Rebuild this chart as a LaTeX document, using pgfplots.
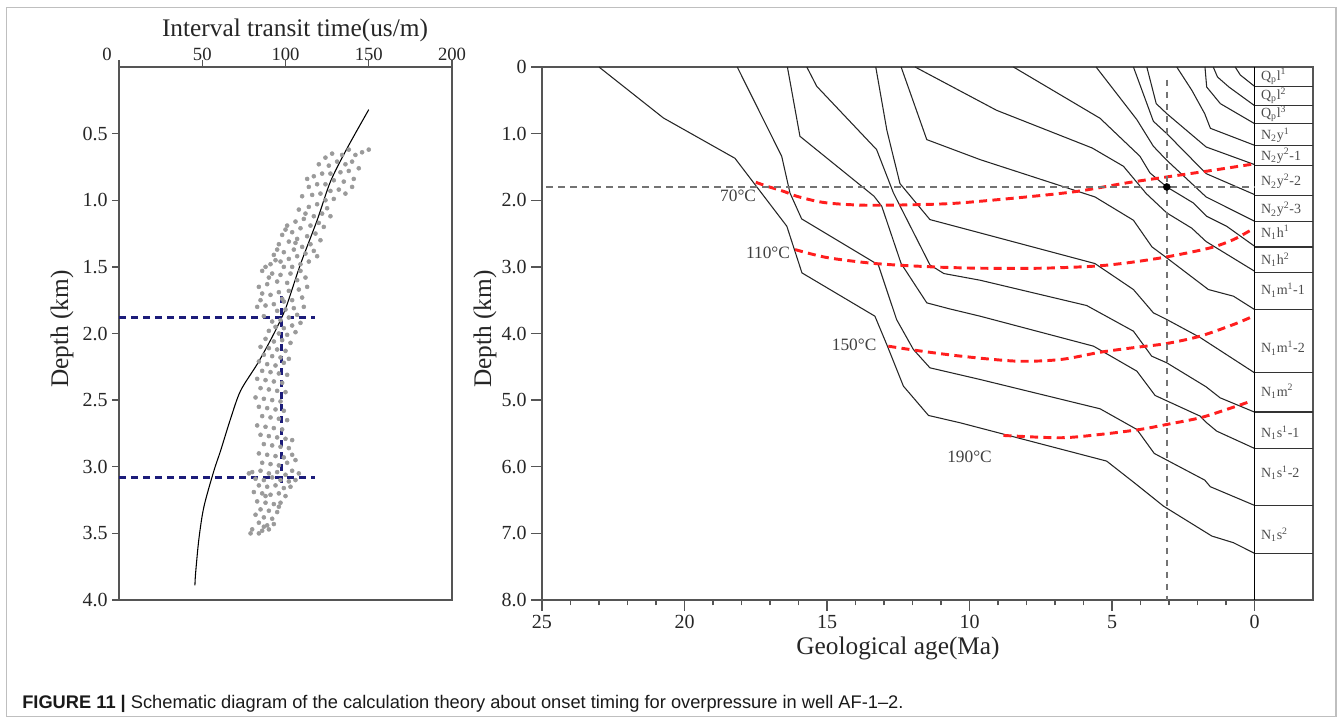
\documentclass[border=0pt]{standalone}
\usepackage{pgfplots}
\pgfplotsset{compat=1.18}
\usepackage{fontspec}
\setmainfont{Liberation Serif}
\newfontfamily\capfont{Liberation Sans}
\definecolor{axgray}{HTML}{555555}
\definecolor{dotgray}{HTML}{9A9A9A}
\definecolor{bluedash}{HTML}{1C1C7A}
\definecolor{isored}{HTML}{FF1E1E}
\pgfplotsset{burial/.style={black!85, line width=0.8pt, mark=none},
 iso/.style={isored, line width=2.2pt, dash pattern=on 6pt off 4pt, smooth, mark=none}}
\begin{document}
\begin{tikzpicture}
\useasboundingbox (0,0) rectangle (1006.5pt,541.5pt);
\draw[black!25, line width=0.8pt] (5pt,4pt) rectangle (1002pt,536pt);

% ---------------- left panel ----------------
\begin{axis}[
 at={(89.25pt,91.5pt)}, anchor=south west, scale only axis,
 width=249.75pt, height=399.75pt,
 xmin=0, xmax=200, ymin=0, ymax=4, y dir=reverse,
 xtick={50,100,150,200}, xticklabels={50,100,150,200},
 extra x ticks={0}, extra x tick labels={0},
 extra x tick style={xticklabel style={xshift=-9pt}},
 xtick pos=right, xticklabel pos=right,
 ytick={0.5,1.0,1.5,2.0,2.5,3.0,3.5,4.0},
 yticklabels={0.5,1.0,1.5,2.0,2.5,3.0,3.5,4.0},
 ytick pos=left,
 tick align=outside, major tick length=5pt,
 axis line style={axgray, line width=1.2pt},
 tick style={axgray, line width=1pt},
 ticklabel style={font=\fontsize{15}{17}\selectfont, text=black!85},
 xticklabel style={font=\fontsize{14}{16}\selectfont, yshift=-4pt},
 /pgf/number format/assume math mode=true,
 clip=false,
]
\addplot[only marks, mark=*, mark size=1.5pt, color=dotgray, mark options={draw=none, fill=dotgray}] table {
150 0.62
146 0.64
142 0.66
138 0.62
134 0.66
128 0.65
124 0.68
140 0.71
136 0.73
131 0.71
126 0.74
120 0.73
144 0.76
138 0.78
133 0.79
127 0.80
122 0.80
117 0.82
141 0.84
135 0.86
129 0.85
124 0.88
119 0.88
114 0.90
132 0.92
127 0.93
121 0.95
116 0.96
110 0.97
129 0.99
124 1.00
136 0.95
140 0.90
113 0.84
119 1.03
114 1.05
108 1.07
125 1.06
122 1.10
117 1.12
111 1.14
106 1.16
101 1.19
127 1.12
120 1.17
115 1.19
109 1.21
104 1.24
98 1.26
118 1.25
113 1.27
107 1.29
102 1.31
96 1.33
121 1.30
115 1.33
110 1.35
105 1.37
99 1.39
93 1.41
117 1.38
112 1.40
107 1.42
102 1.44
97 1.46
91 1.48
114 1.46
109 1.48
104 1.50
99 1.50
94 1.45
88 1.50
106 1.32
100 1.22
112 1.10
123 1.20
95 1.37
119 1.42
86 1.53
92 1.55
97 1.56
103 1.55
109 1.53
112 1.58
107 1.60
101 1.62
95 1.61
89 1.63
84 1.65
86 1.70
91 1.71
96 1.69
102 1.68
108 1.67
110 1.73
104 1.75
99 1.76
93 1.78
88 1.79
83 1.80
95 1.83
100 1.82
105 1.81
111 1.80
107 1.86
102 1.88
97 1.90
92 1.91
87 1.87
94 1.95
99 1.96
104 1.94
109 1.92
90 1.98
96 2.00
101 2.01
106 1.99
98 1.74
113 1.65
90 1.58
85 1.75
88 2.04
93 2.06
98 2.05
103 2.07
85 2.10
90 2.11
95 2.12
100 2.13
87 2.16
92 2.17
97 2.18
102 2.19
84 2.21
89 2.23
94 2.24
99 2.22
86 2.28
91 2.29
96 2.30
101 2.31
83 2.34
88 2.35
93 2.36
98 2.37
85 2.41
90 2.42
95 2.43
100 2.44
82 2.48
87 2.49
92 2.50
97 2.51
84 2.55
89 2.56
94 2.57
99 2.58
86 2.62
91 2.63
96 2.64
101 2.65
83 2.69
88 2.70
93 2.71
98 2.72
85 2.76
90 2.77
95 2.78
100 2.79
104 2.80
87 2.83
92 2.84
97 2.85
102 2.86
84 2.90
89 2.91
94 2.92
99 2.93
104 2.91
86 2.97
91 2.98
96 2.99
101 2.97
106 2.95
80 3.04
85 3.03
90 3.05
95 3.04
100 3.06
104 3.03
108 3.05
82 3.09
87 3.10
92 3.08
97 3.10
102 3.11
106 3.10
84 3.14
89 3.15
94 3.14
99 3.16
103 3.15
81 3.19
86 3.20
91 3.21
96 3.20
100 3.22
83 3.26
88 3.27
93 3.28
97 3.27
85 3.32
90 3.33
95 3.34
82 3.36
87 3.38
92 3.39
84 3.42
89 3.44
93 3.43
80 3.47
86 3.48
90 3.47
79 3.50
84 3.50
87 3.45
96 3.30
88 3.22
78 3.05
};
\addplot[black, line width=0.8pt, smooth, mark=none] coordinates {
(150,0.32) (137,0.61) (127,0.86) (119,1.15) (109,1.48) (101,1.78) (97,1.90)
(91,2.05) (83,2.23) (73,2.43) (67,2.64) (61,2.88) (57,3.03) (51,3.30)
(48,3.54) (46,3.80) (45.6,3.89)};
\addplot[bluedash, line width=1.8pt, dash pattern=on 5pt off 4pt, mark=none] coordinates {(0,1.88) (118,1.88)};
\addplot[bluedash, line width=1.8pt, dash pattern=on 5pt off 4pt, mark=none] coordinates {(0,3.08) (118,3.08)};
\addplot[bluedash, line width=1.8pt, dash pattern=on 5pt off 4pt, mark=none] coordinates {(97.5,1.72) (97.5,3.12)};
\end{axis}

% ---------------- right panel ----------------
\begin{axis}[
 at={(406.5pt,91.5pt)}, anchor=south west, scale only axis,
 width=578.25pt, height=399.75pt,
 xmin=-2.05, xmax=25, x dir=reverse,
 ymin=0, ymax=8, y dir=reverse,
 xtick={0,5,10,15,20,25}, xticklabels={0,5,10,15,20,25},
 minor xtick={1,2,3,4,6,7,8,9,11,12,13,14,16,17,18,19,21,22,23,24},
 xtick pos=left, ytick pos=left,
 ytick={0,1,2,3,4,5,6,7,8},
 yticklabels={0,1.0,2.0,3.0,4.0,5.0,6.0,7.0,8.0},
 tick align=outside, major tick length=8pt, minor tick length=4pt,
 axis line style={axgray, line width=1.2pt},
 tick style={axgray, line width=1pt},
 ticklabel style={font=\fontsize{15}{17}\selectfont, text=black!85},
 /pgf/number format/assume math mode=true,
 clip=false,
]
% burial curves
\addplot[burial] coordinates {(23,0) (20.74,0.765) (18.23,1.37) (16.41,2.39) (15.88,3.09) (13.32,3.74) (12.9,4.17) (12.32,4.79) (11.44,5.23) (10.33,5.34) (5.19,5.915) (4.25,6.23) (3.49,6.49) (3.2,6.59) (1.5,7.04) (0.74,7.14) (0,7.30)};
\addplot[burial] coordinates {(18.15,0) (16.59,1.34) (16.3,1.89) (15.89,2.28) (13.2,2.97) (12.56,3.79) (11.97,4.24) (11.39,4.515) (9.63,4.69) (5.42,5.13) (4.13,5.44) (3.96,5.54) (3.52,5.80) (1.75,6.20) (1.55,6.30) (0,6.58)};
\addplot[burial] coordinates {(16.39,0) (15.95,1.04) (13.35,1.94) (13.08,2.09) (12.4,2.95) (11.5,3.54) (10.7,3.63) (9.63,3.74) (5.65,4.19) (4.13,4.565) (3.49,4.93) (1.91,5.24) (1.68,5.34) (1.33,5.465) (0,5.725)};
\addplot[burial] coordinates {(15.71,0) (15.36,0.29) (13.26,1.24) (12.67,1.89) (11.39,2.97) (10.9,3.1) (9.63,3.2) (5.89,3.58) (4.25,3.965) (3.61,4.34) (3.08,4.44) (1.7,4.8) (1.21,4.965) (0,5.18)};
\addplot[burial] coordinates {(13.29,0) (12.9,0.95) (12.7,1.3) (12.44,1.75) (11.39,2.29) (9.63,2.49) (5.6,2.95) (4.25,3.34) (3.55,3.69) (3.08,3.79) (1.91,4.06) (0,4.59)};
\addplot[burial] coordinates {(12.4,0) (11.5,1.09) (9.63,1.39) (5.6,1.95) (4.25,2.3) (3.6,2.7) (3.08,2.865) (1.62,3.34) (0.74,3.44) (0,3.64)};
\addplot[burial] coordinates {(11.91,0) (9.05,0.65) (5.7,1.215) (4.6,1.49) (3.8,1.9) (3.08,2.19) (2.2,2.42) (1.7,2.62) (0,3.065)};
\addplot[burial] coordinates {(8.46,0) (5.42,0.77) (4.02,1.34) (3.67,1.59) (3.08,1.8) (2.15,2.04) (1.68,2.24) (0.98,2.39) (0,2.69)};
\addplot[burial] coordinates {(5.56,0) (4.13,0.79) (3.55,1.19) (3.08,1.4) (1.7,1.95) (0,2.315)};
\addplot[burial] coordinates {(4.25,0) (3.55,0.815) (3.08,1.0) (1.7,1.6) (0,1.915)};
\addplot[burial] coordinates {(3.78,0) (3.45,0.55) (3.08,0.7) (1.7,1.2) (0,1.465)};
\addplot[burial] coordinates {(2.73,0) (2.2,0.35) (1.75,0.7) (1.55,0.92) (0,1.175)};
\addplot[burial] coordinates {(1.74,0) (1.68,0.3) (1.2,0.55) (0,0.85)};
\addplot[burial] coordinates {(1.45,0) (1.3,0.15) (0.9,0.3) (0,0.58)};
\addplot[burial] coordinates {(0.68,0) (0.5,0.12) (0,0.29)};
% column
\addplot[black, line width=1.2pt, mark=none] coordinates {(0,0) (0,8)};
\pgfplotsinvokeforeach{0.29,0.58,0.85,1.175,1.475,1.925,2.315,2.70,3.08,3.64,4.59,5.18,5.73,6.58,7.30}{
 \addplot[black!80, line width=1pt, mark=none] coordinates {(0,#1) (-2.05,#1)};}
% isotherms
\addplot[iso] coordinates {(17.5,1.73) (17.1,1.79) (16.53,1.865) (16.06,1.94) (15.36,2.015) (14.77,2.05) (13.6,2.075) (11.7,2.065) (10.33,2.04) (8.0,1.95) (6.2,1.865) (4.5,1.74) (3.08,1.65) (1.7,1.565) (0.1,1.46)};
\addplot[iso] coordinates {(16.12,2.74) (15.0,2.86) (13.3,2.95) (11.3,3.0) (9.6,3.02) (7.5,3.02) (5.65,2.99) (4.48,2.94) (3.08,2.85) (1.56,2.715) (0.74,2.59) (0.1,2.44)};
\addplot[iso] coordinates {(12.85,4.19) (11.85,4.255) (10.3,4.34) (8.34,4.415) (6.8,4.39) (5.4,4.28) (4.2,4.21) (3.08,4.15) (1.91,4.04) (0.74,3.865) (0.15,3.76)};
\addplot[iso] coordinates {(8.81,5.53) (6.82,5.565) (5.42,5.515) (4.02,5.44) (3.08,5.365) (1.91,5.265) (0.98,5.14) (0.15,5.02)};
% reference lines and point
\addplot[black!55, line width=1.1pt, dash pattern=on 5pt off 4pt, mark=none] coordinates {(24.85,1.8) (0,1.8)};
\addplot[black!55, line width=1.1pt, dash pattern=on 5pt off 4pt, mark=none] coordinates {(3.08,0.19) (3.08,8)};
\addplot[only marks, mark=*, mark size=2.6pt, black] coordinates {(3.08,1.8)};
% temperature labels
\begin{scope}[every node/.style={font=\fontsize{13}{15}\selectfont, text=black!75}]
\node at (axis cs:18.12,1.94) {70°C};
\node at (axis cs:17.07,2.79) {110°C};
\node at (axis cs:14.05,4.17) {150°C};
\node at (axis cs:10.0,5.85) {190°C};
\end{scope}
% column labels
\begin{scope}[every node/.style={font=\fontsize{10.5}{12}\selectfont, text=black!70, anchor=west, inner sep=0pt}]
\node at (axis cs:-0.22,0.14) {Q\textsubscript{p}l\textsuperscript{1}};
\node at (axis cs:-0.22,0.43) {Q\textsubscript{p}l\textsuperscript{2}};
\node at (axis cs:-0.22,0.70) {Q\textsubscript{p}l\textsuperscript{3}};
\node at (axis cs:-0.22,1.02) {N\textsubscript{2}y\textsuperscript{1}};
\node at (axis cs:-0.22,1.33) {N\textsubscript{2}y\textsuperscript{2}-1};
\node at (axis cs:-0.22,1.72) {N\textsubscript{2}y\textsuperscript{2}-2};
\node at (axis cs:-0.22,2.14) {N\textsubscript{2}y\textsuperscript{2}-3};
\node at (axis cs:-0.22,2.48) {N\textsubscript{1}h\textsuperscript{1}};
\node at (axis cs:-0.22,2.89) {N\textsubscript{1}h\textsuperscript{2}};
\node at (axis cs:-0.22,3.35) {N\textsubscript{1}m\textsuperscript{1}-1};
\node at (axis cs:-0.22,4.22) {N\textsubscript{1}m\textsuperscript{1}-2};
\node at (axis cs:-0.22,4.87) {N\textsubscript{1}m\textsuperscript{2}};
\node at (axis cs:-0.22,5.49) {N\textsubscript{1}s\textsuperscript{1}-1};
\node at (axis cs:-0.22,6.09) {N\textsubscript{1}s\textsuperscript{1}-2};
\node at (axis cs:-0.22,7.02) {N\textsubscript{1}s\textsuperscript{2}};
\end{scope}
\end{axis}

% titles and labels
\node[font=\fontsize{19}{22}\selectfont, text=black!85] at (221.25pt,519pt) {Interval transit time(us/m)};
\node[font=\fontsize{19}{22}\selectfont, text=black!85, rotate=90] at (46.5pt,294.75pt) {Depth (km)};
\node[font=\fontsize{19}{22}\selectfont, text=black!85, rotate=90] at (363.75pt,294.75pt) {Depth (km)};
\node[font=\fontsize{19}{22}\selectfont, text=black!85] at (673.5pt,55.5pt) {Geological age(Ma)};
\node[anchor=base west, inner sep=0pt, font=\capfont\fontsize{13.7}{15}\selectfont, text=black!90] at (16.5pt,10.5pt) {\textbf{FIGURE 11 |} Schematic diagram of the calculation theory about onset timing for overpressure in well AF-1–2.};
\end{tikzpicture}
\end{document}
